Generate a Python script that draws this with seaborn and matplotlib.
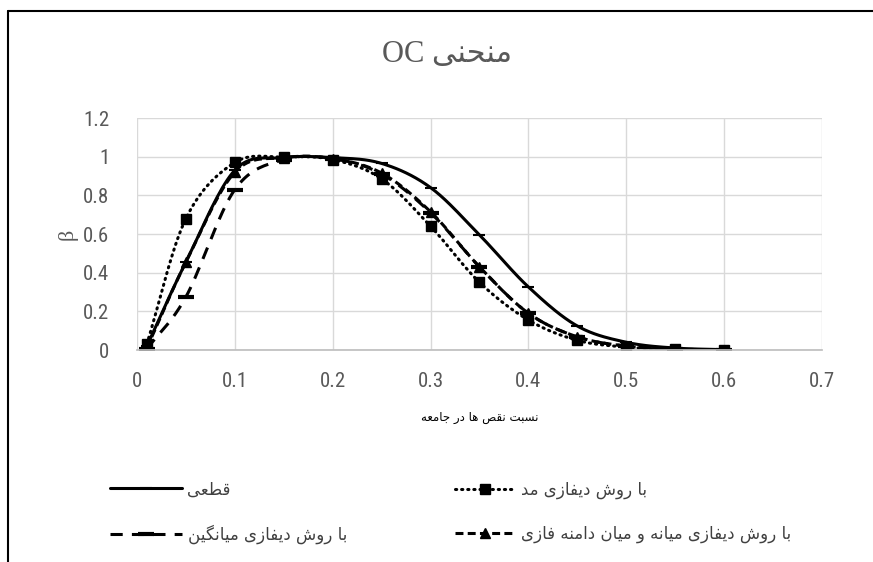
import numpy as np
import pandas as pd
import matplotlib
matplotlib.use("Agg")
import matplotlib.pyplot as plt
from matplotlib.lines import Line2D
from matplotlib import font_manager
from matplotlib.ft2font import FT2Font
import seaborn as sns

# data
p = [0.01, 0.05, 0.1, 0.15, 0.2, 0.25, 0.3, 0.35, 0.4, 0.45, 0.5, 0.55, 0.6]
beta_exact = [0.02, 0.455, 0.93, 0.995, 0.995, 0.965, 0.84, 0.595, 0.326, 0.124, 0.04, 0.01, 0.002]
beta_mode = [0.03, 0.68, 0.97, 0.998, 0.985, 0.885, 0.64, 0.35, 0.155, 0.05, 0.015, 0.004, 0.001]
beta_mean = [0.005, 0.275, 0.83, 0.985, 0.99, 0.91, 0.71, 0.43, 0.19, 0.068, 0.02, 0.005, 0.001]
beta_median = [0.01, 0.455, 0.92, 0.995, 0.99, 0.915, 0.715, 0.43, 0.19, 0.068, 0.02, 0.005, 0.001]

title_fa = "منحنی"
xlabel_fa = "نسبت نقص ها در جامعه"
lab_exact = "قطعی"
lab_mode = "با روش دیفازی مد"
lab_mean = "با روش دیفازی میانگین"
lab_median = "با روش دیفازی میانه و میان دامنه فازی"

# --- minimal persian shaping (matplotlib has no bidi / joining) ---
dejavu = FT2Font(font_manager.findfont("DejaVu Sans"))
cmap = dejavu.get_charmap()

FORMS = {  # isolated, final, initial, medial
    "ا": (0xFE8D, 0xFE8E, None, None),
    "ب": (0xFE8F, 0xFE90, 0xFE91, 0xFE92),
    "ت": (0xFE95, 0xFE96, 0xFE97, 0xFE98),
    "ج": (0xFE9D, 0xFE9E, 0xFE9F, 0xFEA0),
    "ح": (0xFEA1, 0xFEA2, 0xFEA3, 0xFEA4),
    "د": (0xFEA9, 0xFEAA, None, None),
    "ر": (0xFEAD, 0xFEAE, None, None),
    "ز": (0xFEAF, 0xFEB0, None, None),
    "س": (0xFEB1, 0xFEB2, 0xFEB3, 0xFEB4),
    "ش": (0xFEB5, 0xFEB6, 0xFEB7, 0xFEB8),
    "ص": (0xFEB9, 0xFEBA, 0xFEBB, 0xFEBC),
    "ط": (0xFEC1, 0xFEC2, 0xFEC3, 0xFEC4),
    "ع": (0xFEC9, 0xFECA, 0xFECB, 0xFECC),
    "ف": (0xFED1, 0xFED2, 0xFED3, 0xFED4),
    "ق": (0xFED5, 0xFED6, 0xFED7, 0xFED8),
    "م": (0xFEE1, 0xFEE2, 0xFEE3, 0xFEE4),
    "ن": (0xFEE5, 0xFEE6, 0xFEE7, 0xFEE8),
    "ه": (0xFEE9, 0xFEEA, 0xFEEB, 0xFEEC),
    "و": (0xFEED, 0xFEEE, None, None),
    "ی": (0xFBFC, 0xFBFD, 0xFBFE, 0xFBFF),
    "گ": (0xFB92, 0xFB93, 0xFB94, 0xFB95),
}
ALT = {"ی": (0xFEEF, 0xFEF0, 0xFEF3, 0xFEF4), "گ": (0xFED9, 0xFEDA, 0xFEDB, 0xFEDC)}
for k, v in ALT.items():
    if any(c not in cmap for c in FORMS[k]):
        FORMS[k] = v


def shape(s):
    out = []
    for i, ch in enumerate(s):
        if ch not in FORMS:
            out.append(ch)
            continue
        prev = s[i - 1] if i > 0 else ""
        nxt = s[i + 1] if i + 1 < len(s) else ""
        j_prev = prev in FORMS and FORMS[prev][2] is not None
        j_next = FORMS[ch][2] is not None and nxt in FORMS
        f = FORMS[ch]
        if j_prev and j_next:
            c = f[3]
        elif j_prev:
            c = f[1]
        elif j_next:
            c = f[2]
        else:
            c = f[0]
        out.append(chr(c))
    return "".join(out)[::-1]


def smooth(x, y, n=20):
    # catmull-rom, like the excel "smoothed line"
    x = np.asarray(x, float)
    y = np.asarray(y, float)
    P = np.column_stack([x, y])
    P = np.vstack([2 * P[0] - P[1], P, 2 * P[-1] - P[-2]])
    xs, ys = [], []
    t = np.linspace(0, 1, n, endpoint=False)[:, None]
    for i in range(1, len(P) - 2):
        p0, p1, p2, p3 = P[i - 1], P[i], P[i + 1], P[i + 2]
        c = 0.5 * ((2 * p1) + (-p0 + p2) * t + (2 * p0 - 5 * p1 + 4 * p2 - p3) * t ** 2
                   + (-p0 + 3 * p1 - 3 * p2 + p3) * t ** 3)
        xs.extend(c[:, 0])
        ys.extend(c[:, 1])
    xs.append(x[-1])
    ys.append(y[-1])
    return np.array(xs), np.array(ys)


# pick a narrow font for the numbers if one is there
names = {(f.name, f.stretch) for f in font_manager.fontManager.ttflist}
tick_font = dict(family="DejaVu Sans")
for nm in ["Liberation Sans Narrow", "Roboto Condensed", "Open Sans Condensed"]:
    if any(n == nm for n, _ in names):
        tick_font = dict(family=nm)
        break
else:
    if ("DejaVu Sans", "condensed") in names or ("DejaVu Sans", 500 - 125) in names:
        tick_font = dict(family="DejaVu Sans", stretch="condensed")

sns.set_theme(style="whitegrid")
plt.rcParams["font.family"] = ["DejaVu Sans"]

fig = plt.figure(figsize=(8.73, 5.62), dpi=100)
ax = fig.add_axes([137 / 873, 1 - 350 / 562, 685 / 873, 232 / 562])

series = [
    (lab_exact, beta_exact, dict(ls="-", lw=2.2), dict(marker="_", ms=8, mew=1.5)),
    (lab_mode, beta_mode, dict(ls=(0, (0.4, 1.6)), lw=2.2, dash_capstyle="round"), dict(marker="s", ms=7)),
    (lab_mean, beta_mean, dict(ls=(0, (4, 3)), lw=2.2), dict(marker="_", ms=12, mew=3)),
    (lab_median, beta_median, dict(ls=(0, (2.6, 1.4)), lw=2.2), dict(marker="^", ms=7)),
]

handles = []
for lab, vals, lsty, msty in series:
    xs, ys = smooth(p, vals)
    df = pd.DataFrame({"x": xs, "y": ys})
    kw = dict(dash_capstyle="butt")
    kw.update(lsty)
    sns.lineplot(data=df, x="x", y="y", sort=False, estimator=None, color="black", ax=ax, **kw)
    ax.plot(p, vals, ls="none", color="black", **msty)
    handles.append(Line2D([], [], color="black", **kw, **msty))

ax.set_xlim(0, 0.7)
ax.set_ylim(0, 1.2)
ax.set_xticks(np.arange(0, 0.71, 0.1))
ax.set_yticks(np.arange(0, 1.21, 0.2))
ax.set_xticklabels(["0", "0.1", "0.2", "0.3", "0.4", "0.5", "0.6", "0.7"])
ax.set_yticklabels(["0", "0.2", "0.4", "0.6", "0.8", "1", "1.2"])
for t in ax.get_xticklabels() + ax.get_yticklabels():
    t.set(**tick_font)
ax.tick_params(labelsize=15, labelcolor="#595959", pad=10)
ax.tick_params(axis="y", pad=14)
ax.grid(True, color="#d9d9d9", lw=1)
for s in ["top", "right", "left"]:
    ax.spines[s].set_visible(False)
ax.spines["bottom"].set_color("#bfbfbf")
ax.set_facecolor("white")

ax.set_xlabel(shape(xlabel_fa), fontsize=8.5, color="black", labelpad=14)
ax.set_ylabel("β", fontsize=16, color="#595959", family=["Liberation Serif"], labelpad=4)

fig.text(447 / 873, 1 - 55 / 562, "OC " + shape(title_fa), ha="center", va="center", fontsize=22,
         color="#595959", family=["Liberation Serif", "DejaVu Sans"])

labels = [shape(s) for s, _, _, _ in series]
leg_kw = dict(loc="center left", frameon=False, handlelength=4.3, handletextpad=0.35,
              labelspacing=1.55, borderpad=0, borderaxespad=0,
              prop={"family": "DejaVu Sans", "size": 12}, labelcolor="#404040")
leg1 = fig.legend([handles[0], handles[2]], [labels[0], labels[2]],
                  bbox_to_anchor=(110 / 873, 1 - 512 / 562), **leg_kw)
leg_kw["handlelength"] = 3.6
leg2 = fig.legend([handles[1], handles[3]], [labels[1], labels[3]],
                  bbox_to_anchor=(455 / 873, 1 - 512 / 562), **leg_kw)

# outer chart frame (cropped at right and bottom)
fig.add_artist(Line2D([8 / 873, 1], [1 - 11 / 562, 1 - 11 / 562], color="black", lw=1.5,
                      transform=fig.transFigure))
fig.add_artist(Line2D([8 / 873, 8 / 873], [0, 1 - 11 / 562], color="black", lw=1.5,
                      transform=fig.transFigure))

fig.savefig("out.png", dpi=100, facecolor="white")
